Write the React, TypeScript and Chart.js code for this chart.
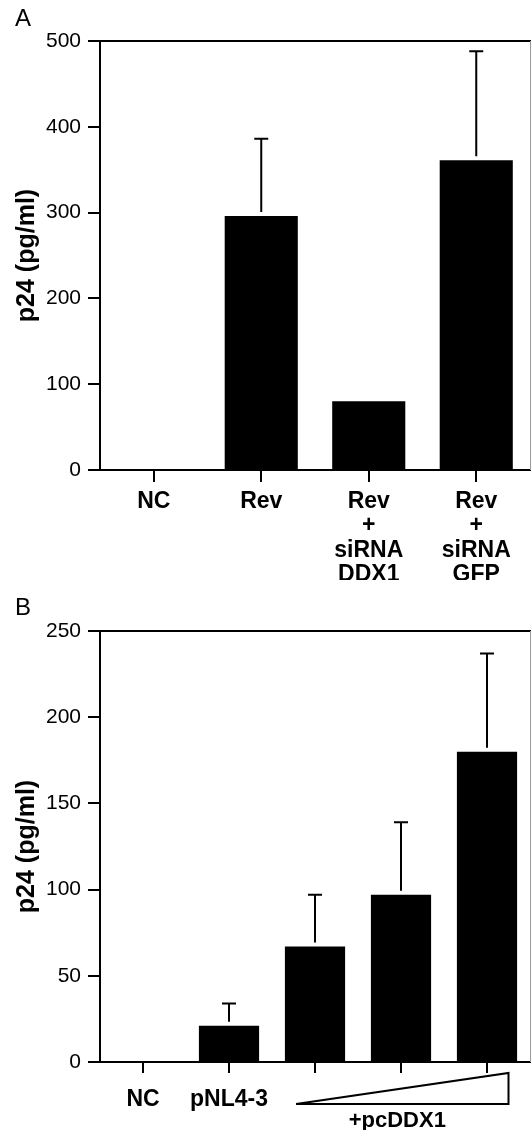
import React, { useEffect, useRef } from "react";
import { Chart, registerables } from "chart.js";

Chart.register(...registerables);

const FONT = "'Liberation Sans', Arial, Helvetica, sans-serif";

// Panel A
const categoriesA = [["NC"], ["Rev"], ["Rev", "+", "siRNA", "DDX1"], ["Rev", "+", "siRNA", "GFP"]];
const valuesA = [0, 296, 80, 361];
const errorsA = [0, 90, 0, 127];
const ticksA = { min: 0, max: 500, step: 100 };

// Panel B
const categoriesB = ["NC", "pNL4-3", "", "", ""];
const valuesB = [0, 21, 67, 97, 180];
const errorsB = [0, 13, 30, 42, 57];
const ticksB = { min: 0, max: 250, step: 50 };
const annotationB = "+pcDDX1";

const yTitle = "p24 (pg/ml)";

function makeConfig(opts: any) {
  const {
    labels, values, errors, ticks, panel, topPad, xHeight, labelPad, tickLen, barPct, triangle,
  } = opts;

  const errorPlugin = {
    id: "errorBars",
    afterDatasetsDraw(chart: any) {
      const ctx = chart.ctx;
      const meta = chart.getDatasetMeta(0);
      const y = chart.scales.y;
      ctx.save();
      ctx.strokeStyle = "#000";
      ctx.lineWidth = 2;
      meta.data.forEach((bar: any, i: number) => {
        const e = errors[i];
        if (!e) return;
        const top = y.getPixelForValue(values[i] + e);
        const start = bar.y - 4;
        ctx.beginPath();
        ctx.moveTo(bar.x, start);
        ctx.lineTo(bar.x, top);
        ctx.moveTo(bar.x - 7, top);
        ctx.lineTo(bar.x + 7, top);
        ctx.stroke();
      });
      ctx.restore();
    },
  };

  const framePlugin = {
    id: "frame",
    afterDraw(chart: any) {
      const ctx = chart.ctx;
      const a = chart.chartArea;
      ctx.save();
      ctx.strokeStyle = "#000";
      ctx.lineWidth = 2;
      ctx.beginPath();
      ctx.moveTo(a.left, a.top);
      ctx.lineTo(chart.width, a.top);
      ctx.stroke();
      ctx.strokeStyle = "#9a9a9a";
      ctx.lineWidth = 1;
      ctx.beginPath();
      ctx.moveTo(a.right + 0.5, a.top);
      ctx.lineTo(a.right + 0.5, a.bottom);
      ctx.stroke();
      // panel letter
      ctx.fillStyle = "#000";
      ctx.font = `24px ${FONT}`;
      ctx.textAlign = "left";
      ctx.textBaseline = "alphabetic";
      ctx.fillText(panel.text, 15, panel.baseline);
      if (triangle) {
        const x = chart.scales.x;
        const cw = x.getPixelForValue(1) - x.getPixelForValue(0);
        const left = x.getPixelForValue(2) - 0.22 * cw;
        const right = x.getPixelForValue(4) + 0.25 * cw;
        const bottom = a.bottom + 42;
        const top = a.bottom + 11;
        ctx.strokeStyle = "#000";
        ctx.lineWidth = 2;
        ctx.lineJoin = "miter";
        ctx.miterLimit = 6;
        ctx.beginPath();
        ctx.moveTo(left, bottom);
        ctx.lineTo(right, bottom);
        ctx.lineTo(right, top);
        ctx.closePath();
        ctx.stroke();
        ctx.font = `bold 22px ${FONT}`;
        ctx.textAlign = "center";
        ctx.fillText(triangle.text, (left + right) / 2 - 5, a.bottom + 65);
      }
      ctx.restore();
    },
  };

  return {
    type: "bar",
    data: {
      labels,
      datasets: [
        {
          data: values,
          backgroundColor: "#000",
          borderWidth: 0,
          barPercentage: barPct,
          categoryPercentage: 1,
        },
      ],
    },
    options: {
      responsive: false,
      animation: false,
      layout: { padding: { top: topPad, left: 0, right: 1, bottom: 0 } },
      plugins: { legend: { display: false }, tooltip: { enabled: false } },
      scales: {
        x: {
          afterFit: (s: any) => { s.height = xHeight; },
          grid: {
            offset: false,
            drawOnChartArea: false,
            drawTicks: true,
            tickLength: tickLen,
            color: "#000",
            lineWidth: 2,
          },
          border: { display: true, color: "#000", width: 2 },
          ticks: {
            color: "#000",
            padding: labelPad,
            maxRotation: 0,
            autoSkip: false,
            font: { family: FONT, size: 23, weight: "bold", lineHeight: 1.065 },
          },
        },
        y: {
          min: ticks.min,
          max: ticks.max,
          afterFit: (s: any) => { s.width = 100; },
          grid: {
            drawOnChartArea: false,
            drawTicks: true,
            tickLength: 12,
            color: "#000",
            lineWidth: 2,
          },
          border: { display: true, color: "#000", width: 2 },
          ticks: {
            stepSize: ticks.step,
            color: "#000",
            padding: 7,
            font: { family: FONT, size: 21 },
          },
          title: {
            display: true,
            text: yTitle,
            color: "#000",
            padding: { top: 12, bottom: 0 },
            font: { family: FONT, size: 25, weight: "bold" },
          },
        },
      },
    },
    plugins: [errorPlugin, framePlugin],
  } as any;
}

export default function App() {
  const refA = useRef<HTMLCanvasElement>(null);
  const refB = useRef<HTMLCanvasElement>(null);

  useEffect(() => {
    const a = new Chart(
      refA.current!,
      makeConfig({
        labels: categoriesA,
        values: valuesA,
        errors: errorsA,
        ticks: ticksA,
        panel: { text: "A", baseline: 26 },
        topPad: 41,
        xHeight: 110,
        labelPad: 7,
        tickLen: 12,
        barPct: 0.68,
      })
    );
    const b = new Chart(
      refB.current!,
      makeConfig({
        labels: categoriesB,
        values: valuesB,
        errors: errorsB,
        ticks: ticksB,
        panel: { text: "B", baseline: 35 },
        topPad: 51,
        xHeight: 68,
        labelPad: 14,
        tickLen: 11,
        barPct: 0.7,
        triangle: { text: annotationB },
      })
    );
    return () => {
      a.destroy();
      b.destroy();
    };
  }, []);

  return (
    <div style={{ position: "absolute", left: 0, top: 0, width: 531, height: 1130, background: "#fff" }}>
      <canvas ref={refA} width={531} height={580} style={{ position: "absolute", left: 0, top: 0, display: "block" }} />
      <canvas ref={refB} width={531} height={550} style={{ position: "absolute", left: 0, top: 580, display: "block" }} />
    </div>
  );
}
